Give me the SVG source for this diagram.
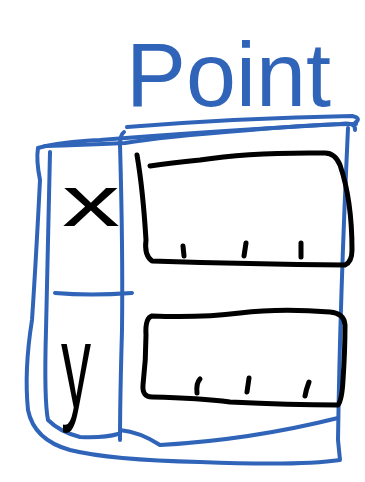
<svg xmlns="http://www.w3.org/2000/svg" width="365" height="482" viewBox="0 0 365 482">
<style>
.b{fill:none;stroke:#3064b8;stroke-width:4;stroke-linecap:round;stroke-linejoin:round}
.k{fill:none;stroke:#000;stroke-width:5;stroke-linecap:round;stroke-linejoin:round}
.t{font-family:"Liberation Sans","DejaVu Sans",sans-serif}
</style>
<rect width="365" height="482" fill="#fff"/>
<g id="title">
<text class="t" x="126" y="106" font-size="90" fill="#3064b8" textLength="205" lengthAdjust="spacingAndGlyphs">Point</text>
<path class="b" d="M127 127 Q240 118 352 116 Q362 118 355 123"/>
</g>
<g id="frame">
<path class="b" d="M38 148 Q36 160 40 180 Q36 260 32 320 Q24 370 28 410 Q34 440 70 450 Q110 460 200 462 Q300 466 340 460 L338 440 Q340 300 348 128"/>
<path class="b" d="M38 148 Q60 142 100 140 Q200 132 340 124 Q356 122 355 130"/>
<path class="b" d="M45 146 Q80 145 125 143 Q160 137 250 130 Q320 124 356 124"/>
<path class="b" d="M50 152 Q48 250 46 330 Q44 400 48 420 Q60 432 80 437 Q105 438 118 434"/>
<path class="b" d="M124 132 Q120 135 120 145 Q123 250 122 330 Q120 400 120 440"/>
<path class="b" d="M120 430 Q140 432 160 445 Q250 440 338 418"/>
<path class="b" d="M55 293 Q90 296 132 293"/>
</g>
<g id="field-x">
<text class="t" x="62" y="226" font-size="72" fill="#000" textLength="58" lengthAdjust="spacingAndGlyphs">x</text>
</g>
<g id="field-y">
<text class="t" x="61" y="408" font-size="120" fill="#000" textLength="30" lengthAdjust="spacingAndGlyphs">y</text>
</g>
<g id="box-x">
<path class="k" d="M137 155 Q143 190 146 240 Q144 255 152 261 Q250 264 345 265 Q352 262 352 250 Q352 200 340 165 Q335 153 325 153 Q250 152 200 160 Q170 163 150 166"/>
<path class="k" d="M183 246 L184 256 M246 243 L244 256 M301 243 L301 257"/>
</g>
<g id="box-y">
<path class="k" d="M152 316 Q145 318 146 335 Q146 360 143 385 Q142 397 152 397 Q200 398 230 402 Q290 405 338 405 Q342 400 343 380 Q345 350 345 325 Q344 313 330 312 Q280 308 240 313 Q200 318 152 316 Z"/>
<path class="k" d="M200 379 Q196 383 197 393 M249 378 L247 392 M309 382 Q306 390 305 396"/>
</g>
</svg>
